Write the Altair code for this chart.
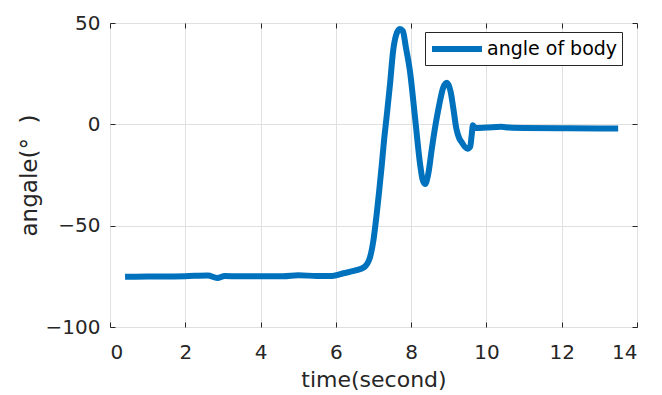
import altair as alt
import pandas as pd

time_s = [0.4, 1.0, 2.0, 2.6, 2.85, 3.05, 3.4, 4.0, 4.6, 5.0, 5.5, 5.9, 6.2, 6.5, 6.75,
          6.9, 7.0, 7.08, 7.15, 7.22, 7.28, 7.35, 7.44, 7.52, 7.6, 7.7, 7.78, 7.86, 7.97,
          8.1, 8.24, 8.3, 8.37, 8.45, 8.55, 8.65, 8.75, 8.85, 8.95, 9.05, 9.12, 9.2, 9.28,
          9.35, 9.42, 9.5, 9.57, 9.61, 9.64, 9.7, 10.0, 10.4, 10.6, 11.0, 12.0, 13.0, 13.5]
angle = [-75.2, -75.1, -74.9, -74.6, -75.8, -74.8, -75.0, -75.0, -75.0, -74.5, -74.8, -74.8,
         -73.5, -72.2, -70.5, -66, -57, -45, -33, -20, -8, 4, 20, 36, 44, 47, 46, 38, 26,
         4, -20, -27, -29.5, -25, -12, 0, 10, 18, 20.5, 16, 8, -2, -7, -9, -11, -12, -11,
         -5, -0.5, -1.8, -1.6, -1.2, -1.6, -1.8, -1.9, -2.0, -2.0]
series = ["angle of body"] * len(time_s)

df = pd.DataFrame({"time": time_s, "angle": angle, "series": series})

FONT = "DejaVu Sans"
TXT = "#262626"
x_ticks = [0, 2, 4, 6, 8, 10, 12, 14]
y_ticks = [-100, -50, 0, 50]

xs = alt.Scale(domain=[0, 14], nice=False)
ys = alt.Scale(domain=[-100, 50], nice=False)

main = alt.Chart(df).mark_line(strokeWidth=6, interpolate="monotone").encode(
    x=alt.X("time:Q", scale=xs, title="time(second)",
            axis=alt.Axis(values=x_ticks, orient="bottom", offset=-5, tickSize=5,
                          domain=False, grid=True, gridColor="#e0e0e0",
                          tickColor=TXT, labelPadding=15, labelFontSize=20,
                          labelColor=TXT, labelFont=FONT, titleFont=FONT,
                          titleFontSize=22, titleFontWeight="normal",
                          titleColor=TXT, titlePadding=7)),
    y=alt.Y("angle:Q", scale=ys, title="angale(°\u00a0\u00a0)",
            axis=alt.Axis(values=y_ticks, orient="left", offset=-5, tickSize=5,
                          domain=False, grid=True, gridColor="#e0e0e0",
                          tickColor=TXT, labelPadding=10, labelFontSize=20,
                          labelColor=TXT, labelFont=FONT, titleFont=FONT,
                          titleFontSize=23, titleFontWeight="normal",
                          titleColor=TXT, titlePadding=4)),
    stroke=alt.Stroke("series:N", scale=alt.Scale(range=["#0072BD"]),
                      legend=alt.Legend(title=None, orient="none", legendX=315, legendY=9,
                                        symbolType="M-1,0H4", symbolSize=400,
                                        symbolStrokeWidth=6, labelFont=FONT,
                                        labelFontSize=19, labelColor="#000000",
                                        fillColor="white", strokeColor=TXT,
                                        padding=4, labelOffset=32)),
)

frame = alt.Chart(df).mark_line(opacity=0).encode(
    x=alt.X("time:Q", scale=xs, title=None,
            axis=alt.Axis(values=x_ticks, orient="top", offset=-5, tickSize=5,
                          domain=False, grid=False, labels=False,
                          tickColor=TXT)),
    y=alt.Y("angle:Q", scale=ys, title=None,
            axis=alt.Axis(values=y_ticks, orient="right", offset=-5, tickSize=5,
                          domain=False, grid=False, labels=False,
                          tickColor=TXT)),
)

chart = alt.layer(main, frame).resolve_axis(x="independent", y="independent").properties(
    width=527, height=304,
    autosize=alt.AutoSizeParams(type="none"),
    padding={"left": 110, "top": 23, "right": 25, "bottom": 68},
).configure_view(stroke=TXT, strokeWidth=1).configure(background="white")

chart.save("out.html", embed_options={"renderer": "svg", "actions": False})
